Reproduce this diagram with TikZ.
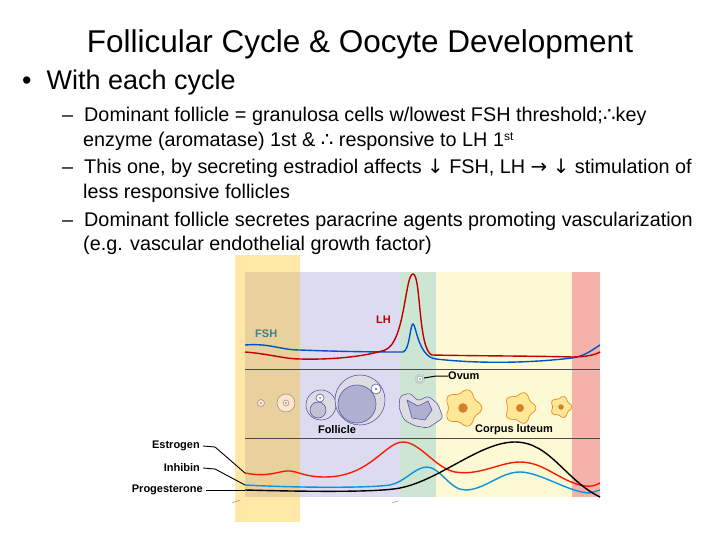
\documentclass[tikz,border=0pt]{standalone}
\usepackage{fontspec}
\setmainfont{Liberation Sans}
\newfontfamily\djv{DejaVu Sans}
\definecolor{lav}{RGB}{221,219,240}
\definecolor{grn}{RGB}{205,230,212}
\definecolor{ylw}{RGB}{253,249,212}
\definecolor{rdb}{RGB}{245,178,170}
\begin{document}
\begin{tikzpicture}[x=1pt,y=-1pt,
 lbl/.style={anchor=base west,inner sep=0},
 sub/.style={lbl,font=\fontsize{19.8}{22}\selectfont},
 fig/.style={font=\bfseries\fontsize{11}{12}\selectfont,inner sep=0},
 cell/.style={draw=gray!70!blue,fill=blue!10!gray!25,line width=0.6pt},
 lut/.style={draw=orange!60!brown,fill=yellow!60!orange!40,line width=0.6pt}]
\useasboundingbox (0,0) rectangle (720,540);
\fill[white] (0,0) rectangle (720,540);
\node[font=\fontsize{31.5}{34}\selectfont,anchor=base] (title) at (360,53) {Follicular Cycle \& Oocyte Development};
\node[lbl,font=\fontsize{27}{30}\selectfont] (b1) at (22,90) {\textbullet\ \ With each cycle};
\node[sub] (d1) at (62,122) {–\ \ Dominant follicle = granulosa cells w/lowest FSH threshold;{\djv∴}key};
\node[sub] (d1b) at (83,147) {enzyme (aromatase) 1st \& {\djv∴} responsive to LH 1\raisebox{0.6ex}{\fontsize{12}{13}\selectfont st}};
\node[sub] (d2) at (62,174) {–\ \ This one, by secreting estradiol affects {\djv↓} FSH, LH {\djv→} {\djv↓} stimulation of};
\node[sub] (d2b) at (83,199) {less responsive follicles};
\node[sub] (d3) at (62,226) {–\ \ Dominant follicle secretes paracrine agents promoting vascularization};
\node[sub] (d3b) at (83,251) {(e.g. vascular endothelial growth factor)};
% bands
\fill[lav] (245,272) rectangle (400,497);
\fill[grn] (400,272) rectangle (436,497);
\fill[ylw] (436,272) rectangle (572,497);
\fill[rdb] (572,272) rectangle (600,497);
\fill[orange!50!yellow,opacity=0.35] (235,255) rectangle (300,522);
\draw[gray!60!black,line width=0.8pt] (245,369) -- (600,369) (245,438) -- (600,438);
% FSH / LH
\draw[blue!60!cyan!80!black,line width=1.4pt] (245,345) .. controls (270,343) and (280,350) .. (300,350) .. controls (350,352) and (390,352) .. (403,352) .. controls (410,350) and (410,324) .. (413,324) .. controls (416,324) and (418,357) .. (436,359) .. controls (480,364) and (530,363) .. (572,358) .. controls (585,356) and (592,350) .. (600,345);
\draw[red!75!black,line width=1.4pt] (245,352) .. controls (270,354) and (285,359) .. (300,359) .. controls (340,360) and (370,355) .. (385,350) .. controls (405,343) and (405,274) .. (413,274) .. controls (421,274) and (418,350) .. (432,355) .. controls (480,356) and (540,356) .. (572,357) .. controls (585,357) and (595,355) .. (600,352);
\node[fig,text=teal!50!gray,anchor=west] (fsh) at (255,334) {FSH};
\node[fig,text=red!75!black,anchor=west] (lh) at (376,320) {LH};
% follicles
\draw[draw=gray,fill=orange!20] (261,403) circle (3.5);
\fill[gray] (261,403) circle (0.8);
\draw[draw=gray,fill=orange!20] (286,403) circle (9);
\draw[gray] (286,403) circle (3); \fill[gray] (286,403) circle (0.8);
\draw[cell] (321,405) circle (15);
\draw[cell,fill=blue!20!gray!40] (318,410) circle (8);
\draw[cell,fill=white] (320,398) circle (4); \fill[gray] (320,398) circle (1);
\draw[cell] (360,400) circle (25);
\draw[cell,fill=blue!25!gray!50] (357,404) circle (19);
\draw[cell,fill=white] (376,389) circle (5); \fill[gray] (376,389) circle (1.3);
\draw[cell,rounded corners=3pt] (400,396) -- (410,393) -- (418,401) -- (428,396) -- (438,404) -- (443,418) -- (428,428) -- (415,426) -- (404,420) -- (399,408) -- cycle;
\draw[cell,fill=blue!25!gray!50] (407,400) -- (418,406) -- (428,401) -- (432,410) -- (425,420) -- (412,418) -- cycle;
\draw[gray,fill=white] (420,379) circle (3); \fill[gray] (420,379) circle (1);
\draw[gray,densely dotted] (420,379) circle (5);
\coordinate (ovp) at (424,378);
\node[fig,anchor=west] (ovum) at (448,376) {Ovum};
\draw[line width=1pt] (ovp) -- (436,376) -- (ovum.west);
\foreach \cx/\cy/\r in {463/408/19,520/408/16,561/407/11}{
 \draw[lut] plot[smooth cycle,samples=25,domain=0:345] ({\cx+\r*(0.88+0.12*cos(5*\x))*cos(\x)},{\cy+\r*(0.88+0.12*cos(5*\x))*sin(\x)});
 \fill[brown!70!orange] (\cx,\cy) circle (\r*0.25);}
\node[fig] (fol) at (337,430) {Follicle};
\node[fig] (cl) at (514,430) {Corpus luteum};
% lower hormones
\draw[red!80!orange,line width=1.4pt] (245,473) .. controls (270,478) and (280,470) .. (290,471) .. controls (300,472) and (305,477) .. (325,477) .. controls (370,477) and (385,442) .. (403,442) .. controls (420,442) and (435,468) .. (455,472) .. controls (480,476) and (500,462) .. (520,462) .. controls (545,462) and (560,482) .. (585,486) .. controls (592,487) and (596,485) .. (600,483);
\draw[cyan!80!blue,line width=1.4pt] (245,485) .. controls (300,488) and (370,488) .. (390,485) .. controls (405,482) and (415,467) .. (427,467) .. controls (440,467) and (450,490) .. (465,490) .. controls (485,490) and (500,472) .. (520,472) .. controls (540,472) and (570,493) .. (590,493) -- (600,490);
\draw[black,line width=1.4pt] (245,490) .. controls (320,492) and (380,492) .. (400,488) .. controls (440,480) and (480,442) .. (515,442) .. controls (550,442) and (565,480) .. (600,497);
\node[fig,anchor=east] (est) at (200,446) {Estrogen};
\node[fig,anchor=east] (inh) at (200,468) {Inhibin};
\node[fig,anchor=east] (pro) at (203,490) {Progesterone};
\coordinate (e1) at (245,473); \coordinate (i1) at (245,485); \coordinate (p1) at (245,490);
\draw[line width=0.9pt] (est.east) ++(3,0) -- ++(12,1) -- (e1);
\draw[line width=0.9pt] (inh.east) ++(3,0) -- ++(12,1) -- (i1);
\draw[line width=0.9pt] (pro.east) ++(3,0) -- (p1);
\draw[gray] (232,503) -- (240,500) (392,503) -- (398,501);
\end{tikzpicture}
\end{document}
